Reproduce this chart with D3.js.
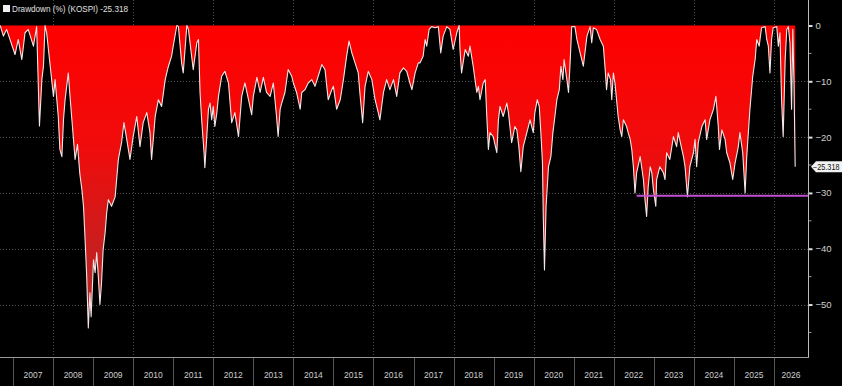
<!DOCTYPE html>
<html><head><meta charset="utf-8">
<script src="https://cdn.jsdelivr.net/npm/d3@7"></script>
<style>html,body{margin:0;padding:0;background:#000;overflow:hidden}svg{display:block}</style>
</head><body><svg id="c" width="842" height="386"></svg>
<script>
const dates = [2006.68,2006.76,2006.84,2007.05,2007.13,2007.22,2007.30,2007.38,2007.51,2007.59,2007.66,2007.72,2007.76,2007.80,2007.84,2007.92,
2008.01,2008.05,2008.13,2008.17,2008.22,2008.26,2008.30,2008.38,2008.42,2008.47,2008.55,2008.61,2008.67,2008.72,2008.76,2008.80,2008.84,2008.88,2008.92,2008.95,
2009.01,2009.05,2009.09,2009.13,2009.17,2009.21,2009.25,2009.30,2009.34,2009.38,2009.46,2009.55,2009.63,2009.71,2009.77,2009.84,2009.92,
2010.00,2010.09,2010.17,2010.25,2010.34,2010.42,2010.46,2010.55,2010.63,2010.71,2010.80,2010.88,2010.96,
2011.00,2011.09,2011.13,2011.21,2011.25,2011.34,2011.38,2011.46,2011.50,2011.59,2011.63,2011.67,2011.71,2011.77,2011.79,2011.88,2011.92,2011.96,
2012.00,2012.04,2012.09,2012.13,2012.21,2012.29,2012.38,2012.46,2012.54,2012.63,2012.71,2012.79,2012.88,2012.96,
2013.00,2013.09,2013.17,2013.25,2013.33,2013.42,2013.50,2013.58,2013.62,2013.67,2013.71,2013.79,2013.87,2013.96,
2014.00,2014.08,2014.17,2014.21,2014.29,2014.37,2014.46,2014.54,2014.62,2014.71,2014.79,2014.87,2014.96,
2015.00,2015.08,2015.17,2015.25,2015.33,2015.39,2015.46,2015.54,2015.62,2015.66,2015.73,2015.79,2015.87,2015.96,
2016.04,2016.12,2016.16,2016.25,2016.33,2016.41,2016.50,2016.58,2016.66,2016.75,2016.83,2016.91,2016.96,
2017.04,2017.12,2017.16,2017.24,2017.29,2017.33,2017.39,2017.45,2017.54,2017.62,2017.68,2017.74,2017.83,2017.91,2017.99,
2018.08,2018.14,2018.16,2018.20,2018.29,2018.37,2018.41,2018.45,2018.49,2018.58,2018.62,2018.66,2018.74,2018.79,2018.83,2018.87,2018.91,2018.99,
2019.08,2019.12,2019.16,2019.24,2019.33,2019.37,2019.45,2019.53,2019.58,2019.63,2019.68,2019.74,2019.83,2019.91,2019.99,
2020.03,2020.09,2020.14,2020.18,2020.22,2020.24,2020.27,2020.31,2020.37,2020.43,2020.48,2020.53,2020.58,2020.64,2020.68,2020.73,2020.76,2020.83,2020.87,2020.91,2020.95,
2021.03,2021.08,2021.16,2021.24,2021.33,2021.41,2021.45,2021.49,2021.57,2021.66,2021.74,2021.78,2021.82,2021.86,2021.92,2021.95,2021.99,
2022.03,2022.07,2022.11,2022.16,2022.20,2022.24,2022.32,2022.36,2022.41,2022.45,2022.49,2022.53,2022.57,2022.66,2022.74,2022.78,2022.82,2022.86,2022.91,2022.95,2022.99,
2023.05,2023.07,2023.15,2023.24,2023.28,2023.32,2023.40,2023.49,2023.57,2023.61,2023.70,2023.74,2023.78,2023.84,2023.90,2023.99,
2024.03,2024.07,2024.11,2024.20,2024.28,2024.32,2024.40,2024.49,2024.55,2024.61,2024.64,2024.70,2024.78,2024.82,2024.90,2024.97,
2025.03,2025.11,2025.15,2025.22,2025.28,2025.32,2025.40,2025.47,2025.53,2025.57,2025.63,2025.69,2025.78,2025.82,2025.86,2025.90,2025.94,2025.98,
2026.07,2026.11,2026.15,2026.19,2026.23,2026.28,2026.32,2026.36,2026.40,2026.44,2026.47,2026.50,2026.53];

const drawdown = [0,-1.9,-0.7,-5.2,-2.5,-6.1,-1.3,-0.7,-3.7,-0.2,-18,-9.7,-7.3,0,-1.3,-6.7,
-12.7,-9.7,-16.3,-22.2,-23.5,-16.9,-13.3,-8.5,-12.4,-16.9,-24,-21.3,-26.7,-29.4,-32.4,-38.4,-45,-54.2,-47.9,-52.2,
-42,-44.3,-40.7,-45,-50,-46.1,-40.2,-37.1,-33.5,-31.2,-32.4,-30.7,-24,-21,-17.4,-20.4,-24,
-19.9,-16.3,-21.7,-17.4,-15.6,-19.2,-24,-16.3,-13.3,-14.5,-9.7,-7.3,-5.5,
-3.7,0,-0.2,-6.7,-8.5,0,-0.7,-5.5,-7.9,-3.1,-2.5,-12,-16.9,-22.8,-25.5,-15,-13.9,-16.9,
-14.5,-18.1,-15.6,-12.7,-9.1,-8.2,-10.3,-17.4,-15.6,-19.9,-12.7,-10.3,-13.3,-16,
-12.7,-9.3,-12,-9.3,-12,-12.7,-10.3,-16.3,-19.9,-15,-13.9,-12,-7.9,-9.1,
-10.3,-12,-15,-12,-11.5,-10.3,-9.7,-10.9,-9.1,-7,-7.9,-13.3,-11.5,
-10.9,-15,-13.3,-9.7,-5.5,-2.8,-4.9,-6.7,-8.5,-12,-17.4,-10.9,-8.2,-9.7,
-13.3,-15.6,-16.9,-12,-9.7,-11.5,-9.7,-12.7,-8.5,-7.6,-8.2,-10.3,-11.5,
-8.5,-6.7,-6.7,-5.5,-2.5,-3.7,-0.7,-0.2,-0.4,-0.2,-4.9,-1.9,-0.2,-0.7,-4.3,
-1.3,0,-4.3,-8.5,-4.3,-5.5,-3.7,-5.5,-7.3,-12,-10.9,-13.3,-10.3,-9.7,-16.3,-22.2,-19.2,-19.9,
-22.8,-16.9,-14.5,-16.3,-13.9,-15.6,-21,-18.1,-18.7,-21.7,-26.2,-21.7,-19.2,-16.9,-19.2,
-15.6,-13.3,-14.5,-19.2,-24.6,-34.2,-43.8,-32.4,-25.3,-23.5,-19.2,-16.3,-13.3,-11.5,-7.3,-9.7,-6.1,-9.7,-12,-6.7,-0.2,
-0.2,-2.5,-4.9,-7.3,-1.9,-0.2,-3.1,-0.4,-0.7,-2.5,-3.7,-7.3,-11.5,-8.5,-9.7,-13.3,-8.5,
-10.3,-13.3,-16.3,-18.7,-19.9,-16.9,-18.1,-19.2,-20.4,-22.2,-25.3,-30,-26.4,-23.5,-27.6,-31.2,-34.2,-28.9,-25.3,-26.4,-29.4,
-32.4,-27.6,-25.3,-26.4,-27.6,-22.8,-24,-19.9,-21.7,-19.2,-22.2,-23.5,-25.3,-30.7,-25.3,-22.8,
-20.4,-25.3,-21,-18.1,-16.9,-20.4,-16.9,-15,-12.7,-18.1,-22.2,-18.7,-20.4,-22.8,-24.6,-27.6,
-24.6,-21.7,-19.2,-22.8,-30,-23.5,-15,-9.1,-6.1,-2.5,-3.7,-0.4,-0.2,-2.5,-3.7,-8.5,-2.5,-0.4,
-0.2,-3.7,-1.3,-13.3,-19.9,-6.1,-0.7,-0.2,-3.1,-15,-0.7,-10.3,-25.318];

const yearLabels = ["2007","2008","2009","2010","2011","2012","2013","2014","2015","2016","2017","2018","2019","2020","2021","2022","2023","2024","2025","2026"];
const yTicks = [0,-10,-20,-30,-40,-50];
const yMinorTicks = [-5,-15,-25,-35,-45,-55];
const gridYears = [2008,2010,2012,2014,2016,2018,2020,2022,2024,2026];
const lastValue = -25.318;
const legendText = "Drawdown (%) (KOSPI) -25.318";
const supportStart = 2022.57;
const supportLevel = -30.5;

const W = 842, H = 386;
const plotR = 808, plotB = 357;
const FONT = "Liberation Sans, Arial, sans-serif";
const svg = d3.select("#c");
const x = d3.scaleLinear().domain([2006.675, 2026.85]).range([0, plotR]);
const y = d3.scaleLinear().domain([0, -59.4]).range([25.5, plotB]);
const data = dates.map((d, i) => ({t: d, v: drawdown[i]}));

const defs = svg.append("defs");
const grad = defs.append("linearGradient").attr("id", "rg")
  .attr("gradientUnits", "userSpaceOnUse")
  .attr("x1", 0).attr("x2", 0).attr("y1", y(0)).attr("y2", y(-55));
grad.append("stop").attr("offset", "0%").attr("stop-color", "#ff0000");
grad.append("stop").attr("offset", "40%").attr("stop-color", "#f00c0c");
grad.append("stop").attr("offset", "100%").attr("stop-color", "#a82c2c");
defs.append("clipPath").attr("id", "clip").append("rect")
  .attr("x", 0).attr("y", 0).attr("width", plotR).attr("height", plotB);

svg.append("rect").attr("width", W).attr("height", H).attr("fill", "#000");

// grid
const grid = svg.append("g").attr("stroke", "#4a4a4a").attr("stroke-width", 1).attr("stroke-dasharray", "1,2");
grid.selectAll("line.h").data(yTicks.filter(d => d < 0)).join("line")
  .attr("x1", 0).attr("x2", plotR).attr("y1", d => Math.round(y(d)) + 0.5).attr("y2", d => Math.round(y(d)) + 0.5);
grid.selectAll("line.v").data(gridYears).join("line")
  .attr("y1", 0).attr("y2", plotB).attr("x1", d => Math.round(x(d)) + 0.5).attr("x2", d => Math.round(x(d)) + 0.5);

const g = svg.append("g").attr("clip-path", "url(#clip)");
g.append("path").datum(data)
  .attr("fill", "url(#rg)")
  .attr("d", d3.area().x(d => x(d.t)).y0(y(0)).y1(d => y(d.v)));
g.append("path").datum(data)
  .attr("fill", "none").attr("stroke", "#f4e6e6").attr("stroke-width", 1.1).attr("stroke-linejoin", "round")
  .attr("d", d3.line().x(d => x(d.t)).y(d => y(d.v)));

// support line
svg.append("line")
  .attr("x1", x(supportStart)).attr("x2", plotR)
  .attr("y1", y(supportLevel)).attr("y2", y(supportLevel))
  .attr("stroke", "#c050d0").attr("stroke-width", 2);

// right axis
const ra = svg.append("g").attr("transform", `translate(${plotR + 0.5},0)`);
ra.call(d3.axisRight(y).tickValues(yTicks).tickSize(4).tickPadding(3).tickFormat(d => d3.format("d")(d)));
ra.select(".domain").remove();
ra.selectAll(".tick line").attr("stroke", "#ddd").attr("stroke-width", 2);
ra.selectAll(".tick text").attr("fill", "#cfcfcf").attr("font-family", FONT).attr("font-size", 9.5);
ra.selectAll("line.minor").data(yMinorTicks).join("line").attr("class", "minor")
  .attr("x1", 0).attr("x2", 3).attr("y1", d => y(d)).attr("y2", d => y(d)).attr("stroke", "#999");
svg.append("line").attr("x1", plotR + 0.5).attr("x2", plotR + 0.5).attr("y1", 0).attr("y2", plotB)
  .attr("stroke", "#bbb").attr("stroke-width", 1);

// bottom axis
svg.append("line").attr("x1", 0).attr("x2", plotR + 1).attr("y1", plotB + 0.5).attr("y2", plotB + 0.5)
  .attr("stroke", "#999").attr("stroke-width", 1);
const years = yearLabels.map(Number);
svg.append("g").selectAll("line").data(years).join("line")
  .attr("x1", d => Math.round(x(d)) + 0.5).attr("x2", d => Math.round(x(d)) + 0.5)
  .attr("y1", plotB + 1).attr("y2", H).attr("stroke", "#555");
svg.append("g").selectAll("text").data(yearLabels).join("text")
  .attr("x", d => (x(+d) + Math.min(x(+d + 1), plotR)) / 2)
  .attr("y", 378).attr("text-anchor", "middle")
  .attr("fill", "#cfcfcf").attr("font-family", FONT).attr("font-size", 8.5)
  .text(d => d);

// last value tag
const ty = y(lastValue);
svg.append("path")
  .attr("d", `M${plotR + 3},${ty} L${plotR + 8},${ty - 5.5} L${W},${ty - 5.5} L${W},${ty + 5.5} L${plotR + 8},${ty + 5.5} Z`)
  .attr("fill", "#f2f2f2");
svg.append("text").attr("x", plotR + 5).attr("y", ty + 3.2)
  .attr("fill", "#111").attr("font-family", FONT).attr("font-size", 8.3)
  .attr("textLength", 26.5).attr("lengthAdjust", "spacingAndGlyphs")
  .text(d3.format(".3f")(lastValue));

// legend
svg.append("rect").attr("x", 3).attr("y", 5).attr("width", 7).attr("height", 7).attr("fill", "#f0f0f0");
svg.append("text").attr("x", 12).attr("y", 12)
  .attr("fill", "#e0e0e0").attr("font-family", FONT).attr("font-size", 9.4)
  .attr("textLength", 116).attr("lengthAdjust", "spacingAndGlyphs")
  .text(legendText);
</script></body></html>
